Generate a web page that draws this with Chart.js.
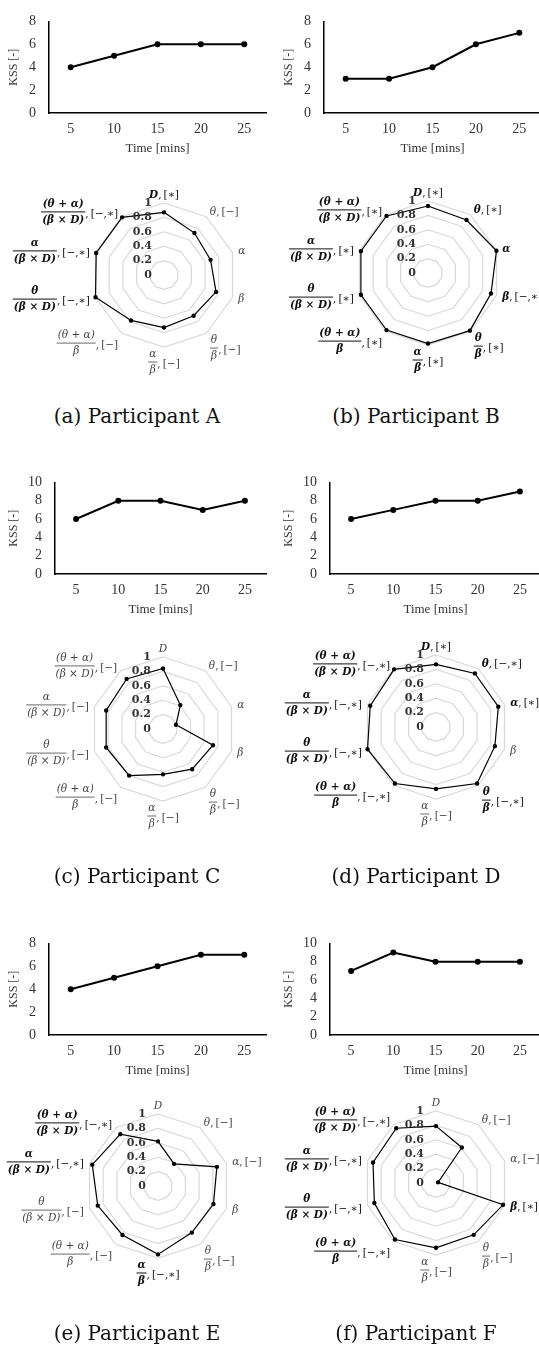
<!DOCTYPE html>
<html>
<head>
<meta charset="utf-8">
<script src="https://cdn.jsdelivr.net/npm/chart.js@4.4.1/dist/chart.umd.min.js"></script>
<style>
  html, body { margin: 0; padding: 0; background: #fff; }
  body { position: relative; width: 539px; height: 1353px; overflow: hidden; }
  canvas { position: absolute; }
  .cap { position: absolute; width: 270px; text-align: center; font: 20px "DejaVu Serif"; color: #111; line-height: 24px; }
</style>
</head>
<body>
<script>
/* ===================== DATA ===================== */

const TIMES = ["5", "10", "15", "20", "25"];

const KSS_A = [4, 5, 6, 6, 6];
const KSS_B = [3, 3, 4, 6, 7];
const KSS_C = [6, 8, 8, 7, 8];
const KSS_D = [6, 7, 8, 8, 9];
const KSS_E = [4, 5, 6, 7, 7];
const KSS_F = [7, 9, 8, 8, 8];

// radar axes, clockwise from the top
const AXIS_NUM = ["D", "θ", "α", "β", "θ", "α", "(θ + α)", "θ", "α", "(θ + α)"];
const AXIS_DEN = ["", "", "", "", "β", "β", "β", "(β × D)", "(β × D)", "(β × D)"];

const RADAR_A = [0.87, 0.72, 0.68, 0.76, 0.70, 0.73, 0.78, 1.00, 0.99, 0.99];
const RADAR_B = [0.93, 0.91, 1.00, 0.92, 0.99, 0.98, 0.98, 0.98, 0.98, 0.98];
const RADAR_C = [0.84, 0.41, 0.19, 0.73, 0.69, 0.63, 0.80, 0.83, 0.83, 0.86];
const RADAR_D = [0.87, 0.92, 0.91, 0.86, 0.97, 0.86, 0.97, 1.00, 0.96, 0.99];
const RADAR_E = [0.62, 0.38, 0.86, 0.81, 0.80, 0.95, 0.84, 0.88, 0.96, 0.89];
const RADAR_F = [0.79, 0.61, 0.03, 0.98, 0.89, 0.90, 0.97, 0.90, 0.92, 0.94];

const SIG_A = ["[∗]", "[−]", "", "", "[−]", "[−]", "[−]", "[−,∗]", "[−,∗]", "[−,∗]"];
const SIG_B = ["[∗]", "[∗]", "", "[−,∗]", "[∗]", "[∗]", "[∗]", "[∗]", "[∗]", "[∗]"];
const SIG_C = ["", "[−]", "", "", "[−]", "[−]", "[−]", "[−]", "[−]", "[−]"];
const SIG_D = ["[∗]", "[−,∗]", "[∗]", "", "[−,∗]", "[−]", "[−,∗]", "[−,∗]", "[−,∗]", "[−,∗]"];
const SIG_E = ["", "[−]", "[−]", "", "[−]", "[−,∗]", "[−]", "[−]", "[−,∗]", "[−,∗]"];
const SIG_F = ["", "[−]", "[−]", "[∗]", "[−]", "[−]", "[−,∗]", "[−,∗]", "[−,∗]", "[−,∗]"];

const BOLD_A = [1, 0, 0, 0, 0, 0, 0, 1, 1, 1];
const BOLD_B = [1, 1, 1, 1, 1, 1, 1, 1, 1, 1];
const BOLD_C = [0, 0, 0, 0, 0, 0, 0, 0, 0, 0];
const BOLD_D = [1, 1, 1, 0, 1, 0, 1, 1, 1, 1];
const BOLD_E = [0, 0, 0, 0, 0, 1, 0, 0, 1, 1];
const BOLD_F = [0, 0, 0, 1, 0, 0, 1, 1, 1, 1];

const CAPTIONS = ["(a) Participant A", "(b) Participant B", "(c) Participant C",
                  "(d) Participant D", "(e) Participant E", "(f) Participant F"];

/* ===================== LAYOUT ===================== */

const PANELS = [
  { kss: KSS_A, max: 8,  radar: RADAR_A, sig: SIG_A, bold: BOLD_A, col: 0, row: 0, cx: 164, cy: 275 },
  { kss: KSS_B, max: 8,  radar: RADAR_B, sig: SIG_B, bold: BOLD_B, col: 1, row: 0, cx: 428, cy: 273 },
  { kss: KSS_C, max: 10, radar: RADAR_C, sig: SIG_C, bold: BOLD_C, col: 0, row: 1, cx: 163, cy: 729 },
  { kss: KSS_D, max: 10, radar: RADAR_D, sig: SIG_D, bold: BOLD_D, col: 1, row: 1, cx: 436, cy: 727 },
  { kss: KSS_E, max: 8,  radar: RADAR_E, sig: SIG_E, bold: BOLD_E, col: 0, row: 2, cx: 158, cy: 1186 },
  { kss: KSS_F, max: 10, radar: RADAR_F, sig: SIG_F, bold: BOLD_F, col: 1, row: 2, cx: 436, cy: 1183 }
];
const ROW_TOP = [0, 461, 922];
const CAP_Y = [416, 876, 1333];
const CAP_X = [137, 416];
const R = 72;

/* ===================== HELPERS ===================== */

function addCanvas(left, top, w, h) {
  const c = document.createElement("canvas");
  c.width = w; c.height = h;
  c.style.left = left + "px"; c.style.top = top + "px";
  c.style.width = w + "px"; c.style.height = h + "px";
  document.body.appendChild(c);
  return c;
}

function drawAxisLabel(ctx, i, x, y, num, den, sig, bold) {
  const mathFont = (bold ? "italic bold " : "italic ") + '10.5px "DejaVu Serif"';
  const textFont = '10.5px "DejaVu Serif"';
  ctx.font = mathFont;
  const fw = den
    ? Math.max(ctx.measureText(num).width, ctx.measureText(den).width) + 2
    : ctx.measureText(num).width;
  const tail = sig ? ",\u2009" + sig : "";
  ctx.font = textFont;
  const tw = tail ? ctx.measureText(tail).width : 0;
  const w = fw + tw;
  const h = den ? 28 : 14;

  let left, mid;
  if (i === 0) { left = x - w / 2; mid = y - h / 2 + 5; }
  else if (i === 5) { left = x - w / 2; mid = y + h / 2 - 5; }
  else if (i < 5) { left = x; mid = y + (i === 4 ? 10 : 0); }
  else { left = x - w; mid = y + (i === 6 ? 5 : 0); }

  ctx.fillStyle = bold ? "#111" : "#444";
  ctx.strokeStyle = ctx.fillStyle;
  ctx.textBaseline = "middle";
  ctx.font = mathFont;
  if (den) {
    ctx.textAlign = "center";
    ctx.fillText(num, left + fw / 2, mid - 8);
    ctx.fillText(den, left + fw / 2, mid + 8);
    ctx.lineWidth = bold ? 1 : 0.8;
    ctx.beginPath();
    ctx.moveTo(left, mid);
    ctx.lineTo(left + fw, mid);
    ctx.stroke();
  } else {
    ctx.textAlign = "left";
    ctx.fillText(num, left, mid);
  }
  if (tail) {
    ctx.font = textFont;
    ctx.textAlign = "left";
    ctx.fillText(tail, left + fw, mid + (den ? 2 : 0));
  }
}

const radarText = {
  id: "radarText",
  afterDraw(chart, args, opts) {
    const s = chart.scales.r;
    const ctx = chart.ctx;
    ctx.save();
    ctx.font = 'bold 11px "DejaVu Serif"';
    ctx.fillStyle = "#333";
    ctx.textAlign = "right";
    ctx.textBaseline = "middle";
    s.ticks.forEach(t => {
      const d = s.getDistanceFromCenterForValue(t.value);
      ctx.fillText(String(Math.round(t.value * 10) / 10), s.xCenter - 12, s.yCenter - d);
    });
    AXIS_NUM.forEach((num, i) => {
      const p = s.getPointPosition(i, s.drawingArea + 6);
      drawAxisLabel(ctx, i, p.x, p.y, num, AXIS_DEN[i], opts.sig[i], opts.bold[i]);
    });
    ctx.restore();
  }
};

/* ===================== CHARTS ===================== */

const serif = "Liberation Serif";

function buildLine(p) {
  const left = p.col ? 275 : 0;
  const canvas = addCanvas(left, ROW_TOP[p.row], 270, 160);
  new Chart(canvas, {
    type: "line",
    data: {
      labels: TIMES,
      datasets: [{
        data: p.kss,
        borderColor: "#000",
        backgroundColor: "#000",
        borderWidth: 2,
        pointRadius: 2,
        pointHoverRadius: 2,
        tension: 0
      }]
    },
    options: {
      responsive: false,
      animation: false,
      layout: { padding: { top: 15, right: 2, left: 0, bottom: 0 } },
      plugins: { legend: { display: false }, tooltip: { enabled: false } },
      scales: {
        x: {
          offset: true,
          grid: { display: false, drawTicks: false },
          border: { color: "#000", width: 1.5 },
          ticks: { font: { family: serif, size: 14 }, color: "#333", padding: 8, maxRotation: 0 },
          title: { display: true, text: "Time [mins]", font: { family: serif, size: 13 }, color: "#333",
                   padding: { top: 0, bottom: 4 } },
          afterFit: s => { s.height = 47; }
        },
        y: {
          min: 0, max: p.max,
          grid: { display: false, drawTicks: false },
          border: { color: "#000", width: 1.5 },
          ticks: { stepSize: 2, autoSkip: false, font: { family: serif, size: 14 }, color: "#333", padding: 13 },
          title: { display: true, text: "KSS [-]", font: { family: serif, size: 12 }, color: "#333",
                   padding: { top: 7, bottom: 0 } },
          afterFit: s => { s.width = p.max === 8 ? 49 : 55; }
        }
      }
    }
  });
}

function buildRadar(p) {
  const left = p.col ? 270 : 0;
  const w = p.col ? 269 : 270;
  const top = p.cy - 110;
  const canvas = addCanvas(left, top, w, 220);
  new Chart(canvas, {
    type: "radar",
    data: {
      labels: AXIS_NUM,
      datasets: [{
        data: p.radar,
        borderColor: "#000",
        backgroundColor: "#000",
        pointBackgroundColor: "#000",
        borderWidth: 1.2,
        pointRadius: 1.6,
        pointHoverRadius: 1.6,
        fill: false
      }]
    },
    options: {
      responsive: false,
      animation: false,
      layout: { padding: {
        left: p.cx - left - R,
        right: w - (p.cx - left) - R,
        top: 110 - R,
        bottom: 110 - R
      } },
      plugins: {
        legend: { display: false },
        tooltip: { enabled: false },
        radarText: { sig: p.sig, bold: p.bold }
      },
      scales: {
        r: {
          min: 0, max: 1,
          ticks: { stepSize: 0.2, display: false },
          grid: { color: "#d9d9d9", lineWidth: 1.2 },
          angleLines: { display: false },
          pointLabels: { display: false }
        }
      }
    },
    plugins: [radarText]
  });
}

PANELS.forEach((p, i) => {
  buildLine(p);
  buildRadar(p);
  const cap = document.createElement("div");
  cap.className = "cap";
  cap.textContent = CAPTIONS[i];
  cap.style.left = (CAP_X[p.col] - 135) + "px";
  cap.style.top = (CAP_Y[p.row] - 12) + "px";
  document.body.appendChild(cap);
});
</script>
</body>
</html>
